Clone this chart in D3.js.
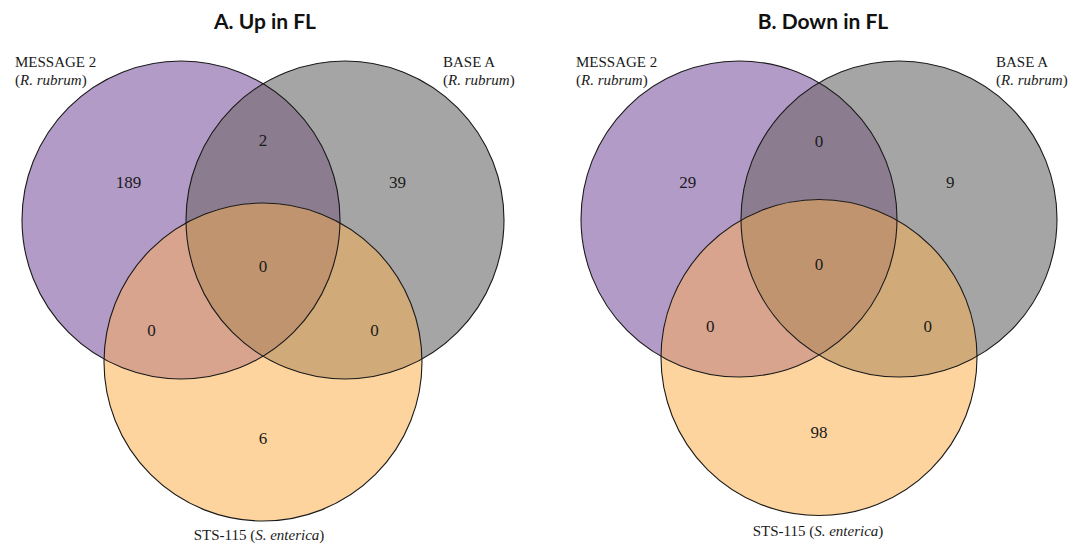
<!DOCTYPE html>
<html>
<head>
<meta charset="utf-8">
<script src="https://cdn.jsdelivr.net/npm/d3@7"></script>
<style>
  html, body { margin: 0; padding: 0; background: #fff; }
  svg { display: block; }
</style>
</head>
<body>
<svg id="chart" width="1075" height="545"></svg>
<script>
// Panel titles and set names
const panelTitles = ["A. Up in FL", "B. Down in FL"];
const setNames = ["MESSAGE 2", "BASE A", "STS-115"];
const setSpecies = ["R. rubrum", "R. rubrum", "S. enterica"];

// Region keys: only M2, only BASE A, only STS-115, M2∩BASE, M2∩STS, BASE∩STS, all three
const regionKeys = ["a", "b", "c", "ab", "ac", "bc", "abc"];
const upCounts   = [189, 39, 6, 2, 0, 0, 0];
const downCounts = [29, 9, 98, 0, 0, 0, 0];

// Region fills
const setColors = ["#b39bc8", "#a6a5a6", "#fdd49e"];
const overlapColors = { ab: "#8b7c8f", ac: "#d8a48e", bc: "#d1aa7a", abc: "#c19470" };

const svg = d3.select("#chart");
const defs = svg.append("defs");

// Unit geometry: circle centres on an equilateral triangle of side 1
const unitCentres = [[-0.5, 0], [0.5, 0], [0, Math.sqrt(3) / 2]];
// Label anchor points for each region in the same unit space
const unitLabelPos = {
  a: [-0.82, -0.23], b: [0.82, -0.23], c: [0, 1.33],
  ab: [0, -0.49], ac: [-0.68, 0.67], bc: [0.68, 0.67], abc: [0, 0.28]
};

const panels = [
  { title: panelTitles[0], counts: upCounts, ox: 263, oy: 220, side: 164, r: 159,
    titleX: 265, labelL: 15, labelR: 443, bottomX: 259, bottomY: 540 },
  { title: panelTitles[1], counts: downCounts, ox: 819, oy: 219, side: 160, r: 158,
    titleX: 823, labelL: 576, labelR: 996, bottomX: 818, bottomY: 536 }
];

panels.forEach((p, pi) => {
  const x = d3.scaleLinear().domain([0, 1]).range([p.ox, p.ox + p.side]);
  const y = d3.scaleLinear().domain([0, 1]).range([p.oy, p.oy + p.side]);
  const centres = unitCentres.map(c => [x(c[0]), y(c[1])]);

  const g = svg.append("g");

  // one clip path per circle
  centres.forEach((c, i) => {
    defs.append("clipPath").attr("id", `clip${pi}_${i}`)
      .append("circle").attr("cx", c[0]).attr("cy", c[1]).attr("r", p.r);
  });

  const disc = (parent, i, fill) => parent.append("circle")
    .attr("cx", centres[i][0]).attr("cy", centres[i][1]).attr("r", p.r)
    .attr("fill", fill);

  // single-set discs and their overlaps, layered
  disc(g, 0, setColors[0]);
  disc(g, 1, setColors[1]);
  disc(g.append("g").attr("clip-path", `url(#clip${pi}_0)`), 1, overlapColors.ab);
  disc(g, 2, setColors[2]);
  disc(g.append("g").attr("clip-path", `url(#clip${pi}_0)`), 2, overlapColors.ac);
  disc(g.append("g").attr("clip-path", `url(#clip${pi}_1)`), 2, overlapColors.bc);
  disc(g.append("g").attr("clip-path", `url(#clip${pi}_0)`)
        .append("g").attr("clip-path", `url(#clip${pi}_1)`), 2, overlapColors.abc);

  // outlines
  g.selectAll("circle.outline").data(centres).join("circle")
    .attr("class", "outline")
    .attr("cx", d => d[0]).attr("cy", d => d[1]).attr("r", p.r)
    .attr("fill", "none").attr("stroke", "#1a1a1a").attr("stroke-width", 1.1);

  // region counts
  g.selectAll("text.count").data(regionKeys).join("text")
    .attr("class", "count")
    .attr("x", k => x(unitLabelPos[k][0]))
    .attr("y", k => y(unitLabelPos[k][1]))
    .attr("dy", "0.35em")
    .attr("text-anchor", "middle")
    .attr("font-family", "'Liberation Serif', 'Times New Roman', serif")
    .attr("font-size", 17)
    .attr("fill", "#1a1a1a")
    .text((k, i) => p.counts[i]);

  // title
  svg.append("text")
    .attr("x", p.titleX).attr("y", 29)
    .attr("text-anchor", "middle")
    .attr("font-family", "Lato, 'Open Sans', sans-serif")
    .attr("font-weight", "bold")
    .attr("font-size", 21)
    .attr("fill", "#111")
    .text(p.title);

  // set names
  const serif = "'Liberation Serif', 'Times New Roman', serif";
  const setLabel = (lx, i) => {
    const t = svg.append("text").attr("font-family", serif).attr("font-size", 15).attr("fill", "#1a1a1a");
    t.append("tspan").attr("x", lx).attr("y", 67).text(setNames[i]);
    const t2 = t.append("tspan").attr("x", lx).attr("y", 85);
    t2.append("tspan").text("(");
    t2.append("tspan").attr("font-style", "italic").text(setSpecies[i]);
    t2.append("tspan").text(")");
  };
  setLabel(p.labelL, 0);
  setLabel(p.labelR, 1);

  const b = svg.append("text").attr("font-family", serif).attr("font-size", 15)
    .attr("fill", "#1a1a1a").attr("text-anchor", "middle")
    .attr("x", p.bottomX).attr("y", p.bottomY);
  b.append("tspan").text(setNames[2] + " (");
  b.append("tspan").attr("font-style", "italic").text(setSpecies[2]);
  b.append("tspan").text(")");
});
</script>
</body>
</html>
